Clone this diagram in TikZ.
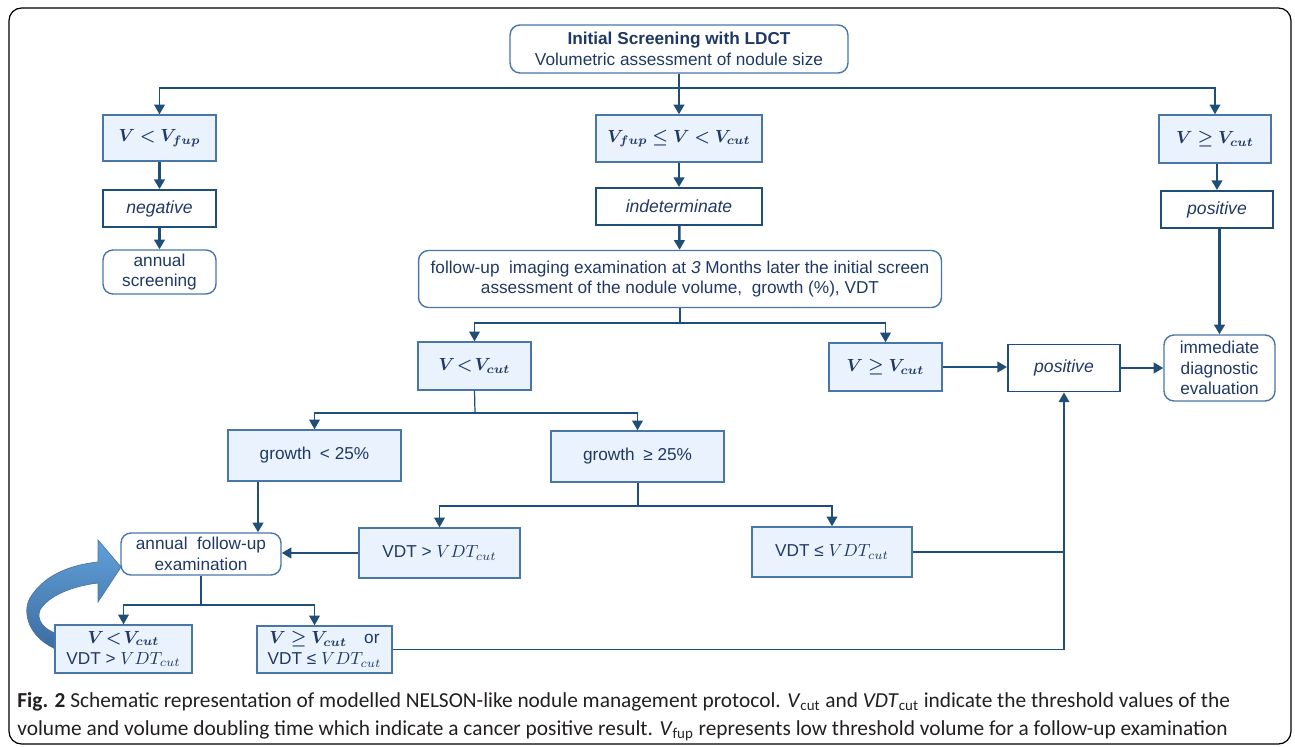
\documentclass[tikz,border=0pt]{standalone}
\usepackage{fontspec}
\usepackage{bm}
\setmainfont{Liberation Sans}
\newfontfamily\capfont{Carlito}
\usetikzlibrary{arrows.meta}

\definecolor{boxfill}{RGB}{234,243,253}
\definecolor{boxline}{RGB}{72,118,166}
\definecolor{dark}{RGB}{31,78,121}
\definecolor{txt}{RGB}{31,56,100}
\definecolor{arcup}{RGB}{98,160,218}
\definecolor{arclow}{RGB}{60,108,158}

\tikzset{
  cond/.style={draw=boxline, fill=boxfill, line width=0.8pt, text=txt,
    inner sep=0pt, align=center},
  res/.style={draw=dark, line width=1.1pt, text=txt, inner sep=0pt,
    align=center, font=\itshape},
  act/.style={draw=boxline, rounded corners=0.2cm, line width=0.8pt,
    text=txt, inner sep=0pt, align=center},
  arr/.style={draw=dark, line width=1.4pt, -{Triangle[length=5.5pt,width=6pt]}},
  brarr/.style={draw=dark, line width=1pt, -{Triangle[length=5.5pt,width=6pt]}},
  br/.style={draw=dark, line width=1pt},
  stem/.style={draw=dark, line width=0.7pt},
}

\begin{document}
\begin{tikzpicture}[x=0.02cm, y=-0.02cm, font=\fontsize{9.8}{11.8}\selectfont]
  \useasboundingbox (0,0) rectangle (1295,747);
  \draw[line width=0.7pt, rounded corners=0.25cm] (9,8) rectangle (1291,744);

  % loop arrow behind the box
  \path[draw=boxline, line width=0.4pt, top color=arcup, bottom color=arclow]
    (58,650) .. controls (28,638) and (22,612) .. (30,598)
    .. controls (44,575) and (70,565) .. (98,562) -- (98,540) -- (121,567)
    -- (98,602) -- (98,583) .. controls (72,586) and (48,596) .. (40,610)
    .. controls (36,620) and (44,630) .. (58,634) -- cycle;

  % first screening
  \node[act, minimum width=6.76cm, minimum height=0.96cm] (init) at (679,49)
    {\textbf{Initial Screening with LDCT}\\Volumetric assessment of nodule size};
  \node[cond, minimum width=2.26cm, minimum height=0.92cm] (vlow) at (159.5,138)
    {$\bm{V < V_{fup}}$};
  \node[res, minimum width=2.26cm, minimum height=0.74cm] (neg) at (159.5,208.5)
    {negative};
  \node[act, minimum width=2.26cm, minimum height=0.88cm] (annscr) at (159.5,272)
    {annual\\screening};
  \node[cond, minimum width=3.32cm, minimum height=0.94cm] (vmid) at (679,138.5)
    {$\bm{V_{fup} \leq V < V_{cut}}$};
  \node[res, minimum width=3.32cm, minimum height=0.74cm] (indet) at (679,206.5)
    {indeterminate};
  \node[act, minimum width=10.46cm, minimum height=1.14cm] (fu3) at (680,279)
    {follow-up\ \ imaging examination at \textit{3} Months later the initial screen\\
     assessment of the nodule volume,\ \ growth (\%), VDT};
  \node[cond, minimum width=2.24cm, minimum height=0.96cm] (vhigh) at (1215,139)
    {$\bm{V \geq V_{cut}}$};
  \node[res, minimum width=2.24cm, minimum height=0.74cm] (posR) at (1217,209.5)
    {positive};
  \node[act, minimum width=2.22cm, minimum height=1.32cm] (immed) at (1219.5,368)
    {immediate\\diagnostic\\evaluation};

  % 3 months
  \node[cond, minimum width=2.26cm, minimum height=0.96cm] (vlc) at (474.5,366)
    {$\bm{V\!<\!V_{cut}}$};
  \node[cond, minimum width=2.26cm, minimum height=0.96cm] (vgc) at (885.5,367)
    {$\bm{V \geq V_{cut}}$};
  \node[res, minimum width=2.24cm, minimum height=0.94cm] (posM) at (1064,368)
    {positive};
  \node[cond, minimum width=3.46cm, minimum height=1.02cm] (gl) at (314.5,455.5)
    {growth\enspace< 25\%};
  \node[cond, minimum width=3.46cm, minimum height=1.02cm] (gg) at (637.5,456.5)
    {growth\enspace≥ 25\%};
  \node[cond, minimum width=3.22cm, minimum height=1cm] (vdtg) at (439.5,553)
    {VDT > $VDT_{cut}$};
  \node[cond, minimum width=3.2cm, minimum height=1cm] (vdtl) at (832,552)
    {VDT ≤ $VDT_{cut}$};

  % yearly
  \node[act, minimum width=3.2cm, minimum height=0.84cm] (annfu) at (201,554)
    {annual\ \ follow-up\\examination};
  \node[cond, minimum width=2.74cm, minimum height=0.96cm] (b1) at (123.5,649)
    {$\bm{V\!<\!V_{cut}}$\\VDT > $VDT_{cut}$};
  \node[cond, minimum width=2.7cm, minimum height=0.94cm] (b2) at (324.5,649.5)
    {$\bm{V \geq V_{cut}}$\quad or\\VDT ≤ $VDT_{cut}$};

  \coordinate (t1) at (679,88);
  \coordinate (t2) at (680,323);
  \coordinate (t3) at (475,413);
  \coordinate (t4) at (258,500);
  \coordinate (t5) at (638,506);
  \coordinate (t7) at (201,605);

  \draw[arr] (init) -- (vmid);
  \draw[brarr] (t1) -| (vlow);
  \draw[brarr] (t1) -| (vhigh);
  \draw[arr] (vlow) -- (neg);
  \draw[arr] (neg) -- (annscr);
  \draw[arr] (vmid) -- (indet);
  \draw[arr] (indet) -- (fu3);
  \draw[arr] (vhigh.south -| posR.north) -- (posR.north);
  \draw[arr] (posR.south -| immed.north) -- (immed.north);

  \draw[stem] (fu3.south) -- (t2);
  \draw[brarr] (t2) -| (vlc);
  \draw[brarr] (t2) -| (vgc);
  \draw[arr] (vgc.east) -- (vgc.east -| posM.west);
  \draw[arr] (posM.east) -- (posM.east -| immed.west);

  \draw[stem] (vlc.south) -- (t3);
  \draw[brarr] (t3) -| (gl);
  \draw[brarr] (t3) -| (gg);
  \draw[arr] (gl.south -| t4) -- (annfu.north -| t4);
  \draw[stem] (gg.south -| t5) -- (t5);
  \draw[brarr] (t5) -| (vdtg);
  \draw[brarr] (t5) -| (vdtl);
  \draw[arr] (vdtg.west) -- (vdtg.west -| annfu.east);
  \draw[br] (vdtl.east) -- (vdtl.east -| posM.south);
  \draw[brarr] (b2.east) -| (posM.south);

  \draw[stem] (annfu.south) -- (t7);
  \draw[brarr] (t7) -| (b1);
  \draw[brarr] (t7) -| ([xshift=-0.2cm]b2.north);

  % caption
  \node[anchor=base west, inner sep=0pt, font=\capfont\fontsize{12.15}{14}\selectfont,
    text={rgb,255:red,35;green,31;blue,32}] (cap1) at (17,707)
    {\textbf{Fig. 2} Schematic representation of modelled NELSON-like nodule management
     protocol. \textit{V}\textsubscript{cut} and \textit{VDT}\textsubscript{cut} indicate
     the threshold values of the};
  \node[anchor=base west, inner sep=0pt, font=\capfont\fontsize{12.15}{14}\selectfont,
    text={rgb,255:red,35;green,31;blue,32}] (cap2) at (17,735)
    {volume and volume doubling time which indicate a cancer positive result.
     \textit{V}\textsubscript{fup} represents low threshold volume for a follow-up
     examination};
\end{tikzpicture}
\end{document}
